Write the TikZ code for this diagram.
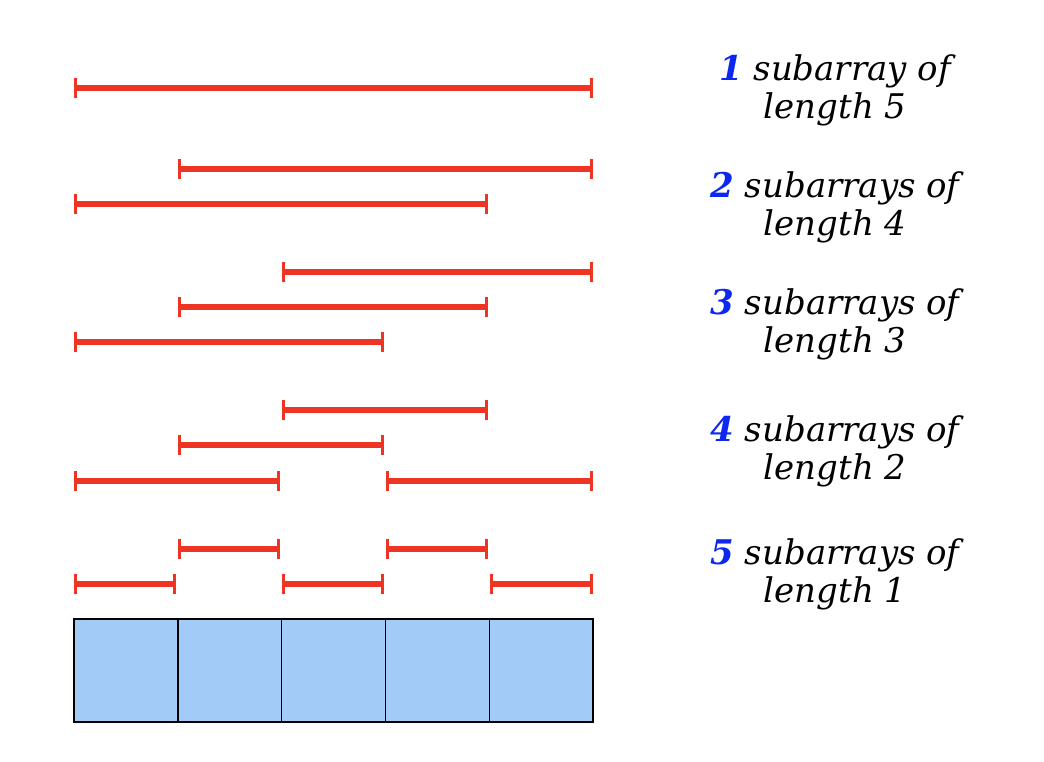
\documentclass[tikz,border=0pt]{standalone}
\usepackage{fontspec}
\setmainfont{DejaVu Serif}
\usetikzlibrary{arrows.meta}
\definecolor{segred}{RGB}{238,53,36}
\definecolor{cellblue}{RGB}{162,203,248}
\definecolor{numblue}{RGB}{12,40,240}
\tikzset{
  seg/.style={draw=segred, line width=5.5pt,
    {Bar[width=20pt,line width=2.6pt]}-{Bar[width=20pt,line width=2.6pt]}},
  cell/.style={draw=black, fill=cellblue, line width=1.4pt, minimum width=103.8pt,
    minimum height=103pt, inner sep=0pt, outer sep=0pt},
  lbl/.style={align=center, font=\fontsize{34}{38}\selectfont\itshape, inner sep=0pt},
}
\newcommand{\nb}[1]{{\bfseries\color{numblue}#1}}
\begin{document}
\begin{tikzpicture}[x=1pt,y=-1pt]
\useasboundingbox (0,0) rectangle (1044,762);
% cells
\foreach \i in {0,...,4}{
  \node[cell, anchor=north west] (c\i) at ({74+103.8*\i},619) {};
}
% length 5
\draw[seg] (74,88) -- (593,88);
% length 4
\draw[seg] (178,169) -- (593,169);
\draw[seg] (74,204) -- (488,204);
% length 3
\draw[seg] (282,272) -- (593,272);
\draw[seg] (178,307) -- (488,307);
\draw[seg] (74,342) -- (384,342);
% length 2
\draw[seg] (282,410) -- (488,410);
\draw[seg] (178,445) -- (384,445);
\draw[seg] (74,481) -- (280,481);
\draw[seg] (386,481) -- (593,481);
% length 1
\draw[seg] (178,549) -- (280,549);
\draw[seg] (386,549) -- (488,549);
\draw[seg] (74,584) -- (176,584);
\draw[seg] (282,584) -- (384,584);
\draw[seg] (490,584) -- (593,584);
% labels
\node[lbl] (t1) at (835,90) {\nb{1} subarray of\\length 5};
\node[lbl] (t2) at (835,207) {\nb{2} subarrays of\\length 4};
\node[lbl] (t3) at (835,324) {\nb{3} subarrays of\\length 3};
\node[lbl] (t4) at (835,451) {\nb{4} subarrays of\\length 2};
\node[lbl] (t5) at (835,574) {\nb{5} subarrays of\\length 1};
\end{tikzpicture}
\end{document}
